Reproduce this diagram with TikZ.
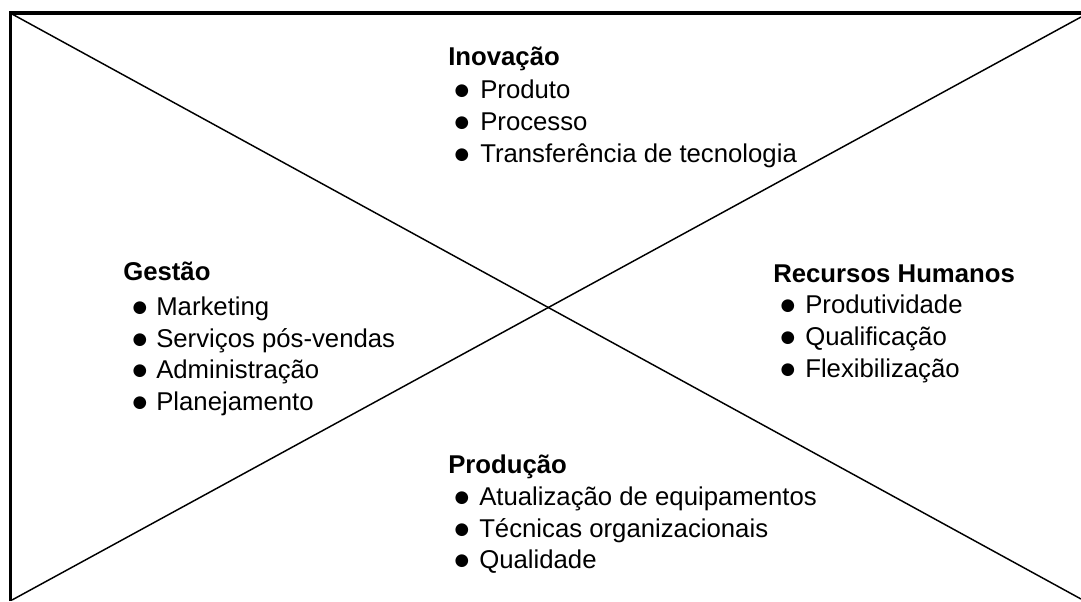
\documentclass[tikz,border=0pt]{standalone}
\usepackage{fontspec}
\setmainfont{Liberation Sans}
\newfontfamily\symfont{DejaVu Sans}
\tikzset{
  head/.style={anchor=base west, inner sep=0pt, font=\fontsize{19.3}{23}\selectfont\bfseries},
  item/.style={anchor=base west, inner sep=0pt, font=\fontsize{19.3}{23}\selectfont},
  bul/.style={anchor=center, inner sep=0pt, font=\symfont\fontsize{12.5}{14}\selectfont},
  frame/.style={line width=2.4pt},
  diag/.style={line width=1.1pt}
}
\begin{document}
\begin{tikzpicture}[x=0.75pt,y=-0.75pt]
\useasboundingbox (0,0) rectangle (1081,601);
\coordinate (tl) at (10.5,13);
\coordinate (bl) at (10.5,601);
\coordinate (tr) at (1081,13);
\coordinate (d1s) at (12,14);
\coordinate (d1e) at (1081,599);
\coordinate (d2s) at (12,600);
\coordinate (d2e) at (1081,17);
\draw[frame] (bl) -- (tl) -- (tr);
\draw[diag] (d1s) -- (d1e);
\draw[diag] (d2s) -- (d2e);
% Inovacao
\node[head] (inov) at (448,65) {Inovação};
\node[bul] (ib1) at (462,91) {●};
\node[item] (i1) at (480,98) {Produto};
\node[bul] (ib2) at (462,123) {●};
\node[item] (i2) at (480,130) {Processo};
\node[bul] (ib3) at (462,155) {●};
\node[item] (i3) at (480,162) {Transferência de tecnologia};
% Gestao
\node[head] (gest) at (123,280) {Gestão};
\node[bul] (gb1) at (140,308) {●};
\node[item] (g1) at (156,315) {Marketing};
\node[bul] (gb2) at (140,340) {●};
\node[item] (g2) at (156,347) {Serviços pós-vendas};
\node[bul] (gb3) at (140,371) {●};
\node[item] (g3) at (156,378) {Administração};
\node[bul] (gb4) at (140,403) {●};
\node[item] (g4) at (156,410) {Planejamento};
% Recursos Humanos
\node[head] (rh) at (773,282) {Recursos Humanos};
\node[bul] (rb1) at (788,306) {●};
\node[item] (r1) at (805,313) {Produtividade};
\node[bul] (rb2) at (788,338) {●};
\node[item] (r2) at (805,345) {Qualificação};
\node[bul] (rb3) at (788,370) {●};
\node[item] (r3) at (805,377) {Flexibilização};
% Producao
\node[head] (prod) at (448,473) {Produção};
\node[bul] (pb1) at (462,498) {●};
\node[item] (p1) at (479,505) {Atualização de equipamentos};
\node[bul] (pb2) at (462,530) {●};
\node[item] (p2) at (479,537) {Técnicas organizacionais};
\node[bul] (pb3) at (462,561) {●};
\node[item] (p3) at (479,568) {Qualidade};
\end{tikzpicture}
\end{document}
